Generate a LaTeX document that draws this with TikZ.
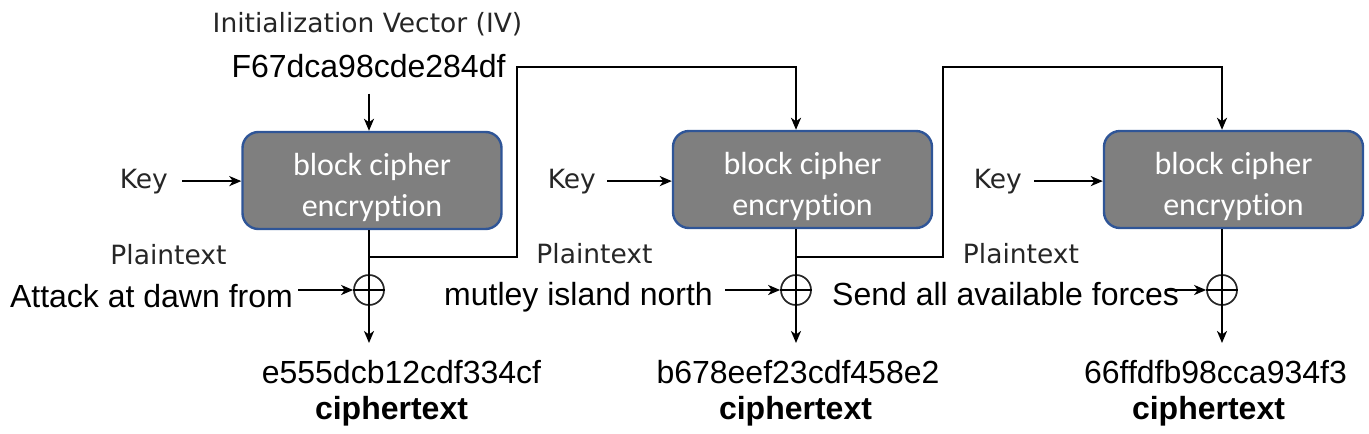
\documentclass[tikz,border=0pt]{standalone}
\usepackage{fontspec}
\setmainfont{Liberation Sans}
\newfontfamily\tahfont{DejaVu Sans}
\newfontfamily\calfont[Ligatures=NoCommon]{Carlito}
\usetikzlibrary{arrows.meta}
\definecolor{blockfill}{HTML}{7F7F7F}
\definecolor{blockedge}{HTML}{2F5597}
\begin{document}
\begin{tikzpicture}[x=1pt,y=-1pt,
  wire/.style={draw=black,line width=2.3pt},
  arr/.style={wire,-{Stealth[length=12pt,width=10pt,inset=3.5pt]}},
  blockbox/.style={draw=blockedge,line width=2.4pt,fill=blockfill,rounded corners=16pt,
     minimum width=259pt,minimum height=97pt,inner sep=0pt,align=center,text=white,
     font=\calfont\fontsize{32}{41}\selectfont},
  xorc/.style={circle,draw=black!85,line width=1.7pt,minimum size=30pt,inner sep=0pt},
  lab/.style={inner sep=0pt,text=black!85,font=\tahfont\fontsize{26.5}{30}\selectfont},
  hex/.style={inner sep=0pt,text=black,font=\fontsize{32}{38}\selectfont},
  ctext/.style={inner sep=0pt,text=black,font=\bfseries\fontsize{32}{38}\selectfont}]
\useasboundingbox (0,0) rectangle (1369,434);

% blocks
\node[blockbox] (b1) at (372,180.5) {\rule{0pt}{39pt}block cipher\\encryption\rule[-8pt]{0pt}{8pt}};
\node[blockbox] (b2) at (802.5,179.5) {\rule{0pt}{39pt}block cipher\\encryption\rule[-8pt]{0pt}{8pt}};
\node[blockbox] (b3) at (1233.5,179.5) {\rule{0pt}{39pt}block cipher\\encryption\rule[-8pt]{0pt}{8pt}};

% xor
\node[xorc] (x1) at (369,290) {};
\node[xorc] (x2) at (796,290) {};
\node[xorc] (x3) at (1222,290) {};

% IV
\node[lab,anchor=base] (iv) at (367.5,32) {Initialization Vector (IV)};
\node[hex,anchor=base] (ivv) at (368.5,77) {F67dca98cde284df};

% keys
\node[lab,anchor=base east] (k1) at (168,188) {Key};
\node[lab,anchor=base east] (k2) at (596,188) {Key};
\node[lab,anchor=base east] (k3) at (1022,188) {Key};

% plaintext labels
\node[lab,anchor=base] (p1) at (168.5,264) {Plaintext};
\node[lab,anchor=base] (p2) at (594.5,263) {Plaintext};
\node[lab,anchor=base] (p3) at (1021,263) {Plaintext};

% plaintext messages
\node[hex,anchor=base east] (m1) at (293,307) {Attack at dawn from};
\node[hex,anchor=base east] (m2) at (713,305) {mutley island north};
\node[hex,anchor=base west] (m3) at (832,305) {Send all available forces};

% ciphertexts
\node[hex,anchor=base] (h1) at (401.5,383) {e555dcb12cdf334cf};
\node[hex,anchor=base] (h2) at (798,383) {b678eef23cdf458e2};
\node[hex,anchor=base] (h3) at (1215.5,383) {66ffdfb98cca934f3};
\node[ctext,anchor=base] (c1) at (391.5,419) {ciphertext};
\node[ctext,anchor=base] (c2) at (795.5,419) {ciphertext};
\node[ctext,anchor=base] (c3) at (1208.5,419) {ciphertext};

% helper coordinates
\coordinate (o1) at (369,343);
\coordinate (o2) at (796,343);
\coordinate (o3) at (1222,343);
\coordinate (j1) at (369,257);
\coordinate (j2) at (796,257);
\coordinate (u1) at (517,67);
\coordinate (u2) at (943,67);
\coordinate (t2) at (796,67);
\coordinate (t3) at (1222,67);

% IV into block 1
\draw[arr,shorten <=16pt] (ivv.south -| x1) -- (x1 |- b1.north);

% keys
\draw[arr,shorten <=14pt] (k1.east) -- (k1.east -| b1.west);
\draw[arr,shorten <=11pt] (k2.east) -- (k2.east -| b2.west);
\draw[arr,shorten <=12pt] (k3.east) -- (k3.east -| b3.west);

% block outputs through xor
\draw[wire] (x1 |- b1.south) -- (x1.south);
\draw[wire] (x2 |- b2.south) -- (x2.south);
\draw[wire] (x3 |- b3.south) -- (x3.south);
\draw[wire,line width=1.7pt] (x1.west) -- (x1.east);
\draw[wire,line width=1.7pt] (x2.west) -- (x2.east);
\draw[wire,line width=1.7pt] (x3.west) -- (x3.east);
\draw[arr] (x1.south) -- (o1);
\draw[arr] (x2.south) -- (o2);
\draw[arr] (x3.south) -- (o3);

% plaintext into xor
\draw[arr,shorten <=5pt] (m1.east |- x1.west) -- (x1.west);
\draw[arr,shorten <=12pt] (m2.east |- x2.west) -- (x2.west);
\draw[arr,shorten <=-14pt] (m3.east |- x3.west) -- (x3.west);

% chaining
\draw[arr] (j1) -| (u1) -- (t2) -- (t2 |- b2.north);
\draw[arr] (j2) -| (u2) -- (t3) -- (t3 |- b3.north);
\end{tikzpicture}
\end{document}
